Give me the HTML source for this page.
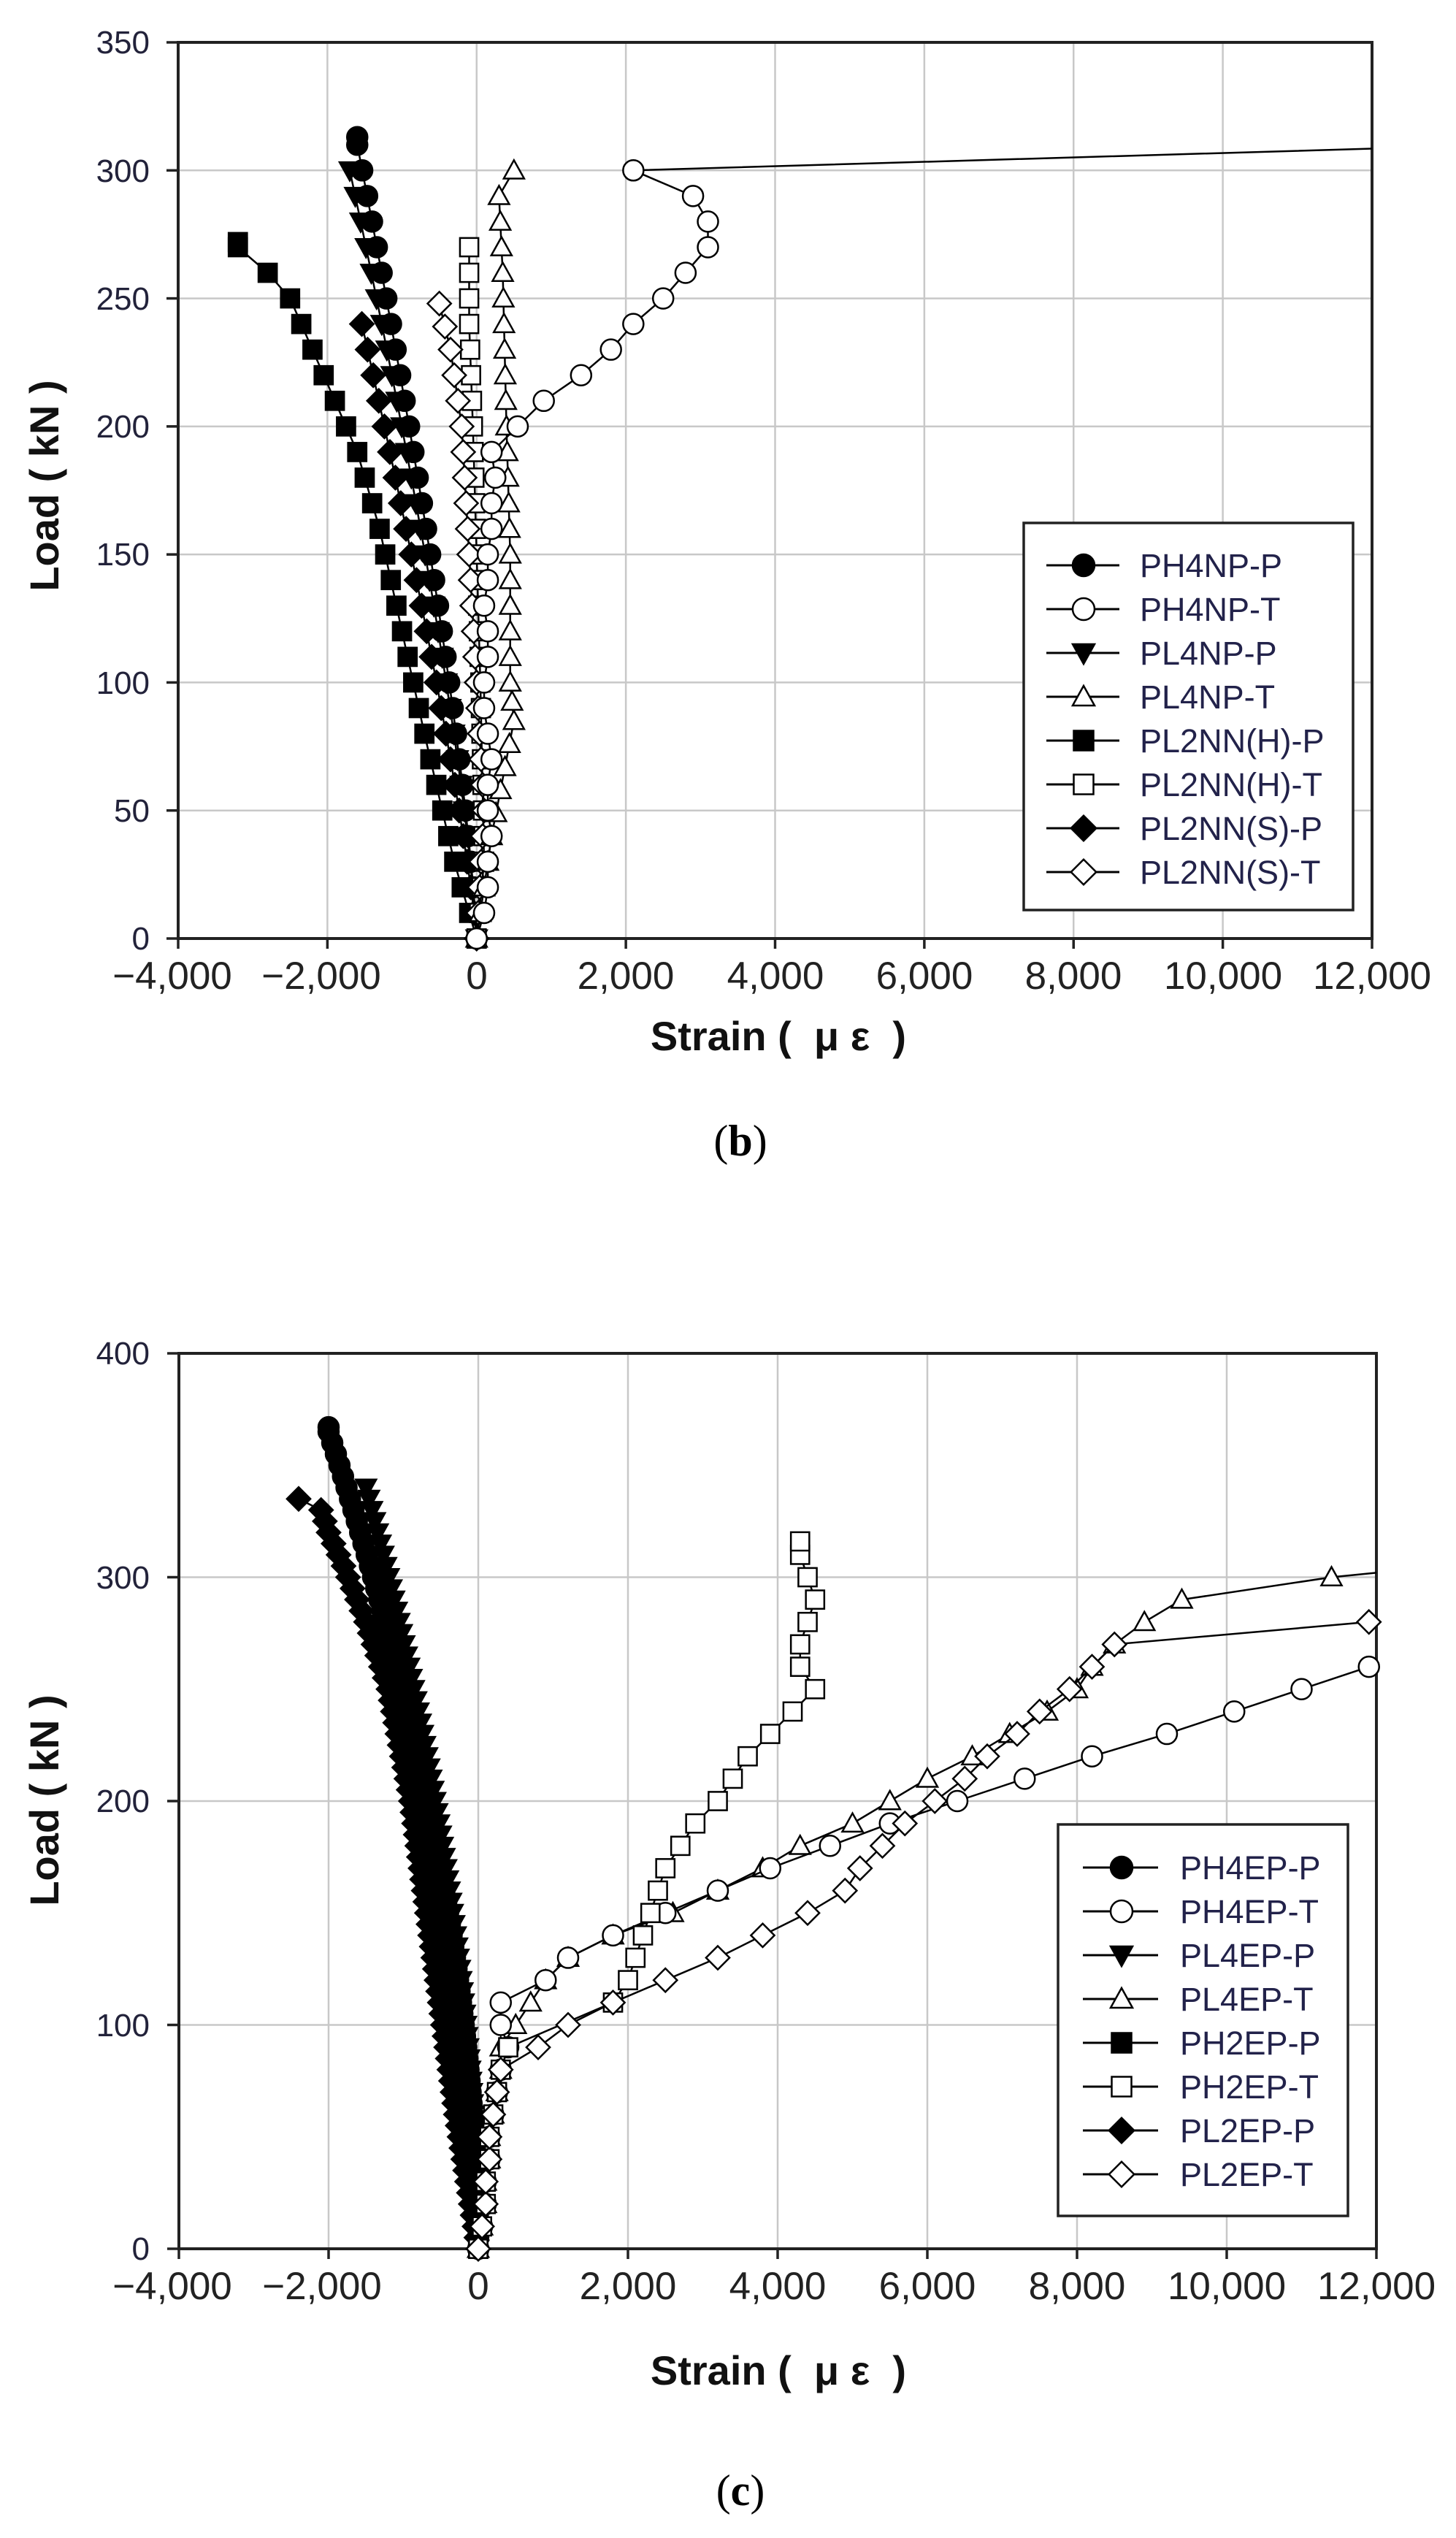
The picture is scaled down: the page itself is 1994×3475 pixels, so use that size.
<!DOCTYPE html>
<html><head><meta charset="utf-8"><style>
html,body{margin:0;padding:0;background:#fff;}
svg{display:block;}
.tk{font-family:"Liberation Sans",sans-serif;font-size:44px;fill:#22223a;}
.xt{font-family:"Liberation Sans",sans-serif;font-size:53px;fill:#222;}
.ti{font-family:"Liberation Sans",sans-serif;font-size:56px;font-weight:bold;fill:#111;}
.lg{font-family:"Liberation Sans",sans-serif;font-size:45px;fill:#22224a;}
.cap{font-family:"Liberation Serif",serif;font-size:60px;fill:#000;}
</style></head><body>
<svg id="s" width="1994" height="3475" viewBox="0 0 1994 3475" xmlns="http://www.w3.org/2000/svg">
<rect width="1994" height="3475" fill="#fff"/>
<g id="grid"></g>
<g id="data"></g>
<g class="tk" text-anchor="end">
<text x="205" y="1300">0</text><text x="205" y="1125">50</text><text x="205" y="950">100</text>
<text x="205" y="774">150</text><text x="205" y="599">200</text><text x="205" y="424">250</text>
<text x="205" y="249">300</text><text x="205" y="73">350</text>
</g>
<g class="xt" text-anchor="middle">
<text x="236" y="1354">−4,000</text><text x="440" y="1354">−2,000</text><text x="653" y="1354">0</text>
<text x="857" y="1354">2,000</text><text x="1062" y="1354">4,000</text><text x="1266" y="1354">6,000</text>
<text x="1470" y="1354">8,000</text><text x="1675" y="1354">10,000</text><text x="1879" y="1354">12,000</text>
</g>
<text class="ti" x="1066" y="1438" text-anchor="middle" xml:space="preserve">Strain (  μ ε  )</text>
<text class="ti" transform="translate(80,665) rotate(-90)" text-anchor="middle">Load ( kN )</text>
<text class="cap" x="1014" y="1582" text-anchor="middle">(<tspan font-weight="bold">b</tspan>)</text>
<g class="tk" text-anchor="end">
<text x="205" y="3094">0</text><text x="205" y="2788">100</text><text x="205" y="2481">200</text>
<text x="205" y="2175">300</text><text x="205" y="1868">400</text>
</g>
<g class="xt" text-anchor="middle">
<text x="236" y="3148">−4,000</text><text x="441" y="3148">−2,000</text><text x="655" y="3148">0</text>
<text x="860" y="3148">2,000</text><text x="1065" y="3148">4,000</text><text x="1270" y="3148">6,000</text>
<text x="1475" y="3148">8,000</text><text x="1680" y="3148">10,000</text><text x="1885" y="3148">12,000</text>
</g>
<text class="ti" x="1066" y="3265" text-anchor="middle" xml:space="preserve">Strain (  μ ε  )</text>
<text class="ti" transform="translate(80,2465) rotate(-90)" text-anchor="middle">Load ( kN )</text>
<text class="cap" x="1014" y="3430" text-anchor="middle">(<tspan font-weight="bold">c</tspan>)</text>
<rect x="1402" y="716" width="451" height="530" fill="#fff" stroke="#222" stroke-width="3.5"/>
<g class="lg">
<text x="1561" y="790">PH4NP-P</text><text x="1561" y="850">PH4NP-T</text><text x="1561" y="910">PL4NP-P</text>
<text x="1561" y="970">PL4NP-T</text><text x="1561" y="1030">PL2NN(H)-P</text><text x="1561" y="1090">PL2NN(H)-T</text>
<text x="1561" y="1150">PL2NN(S)-P</text><text x="1561" y="1210">PL2NN(S)-T</text>
</g>
<rect x="1449" y="2498" width="397" height="536" fill="#fff" stroke="#222" stroke-width="3.5"/>
<g class="lg">
<text x="1616" y="2573">PH4EP-P</text><text x="1616" y="2633">PH4EP-T</text><text x="1616" y="2693">PL4EP-P</text>
<text x="1616" y="2753">PL4EP-T</text><text x="1616" y="2813">PH2EP-P</text><text x="1616" y="2873">PH2EP-T</text>
<text x="1616" y="2933">PL2EP-P</text><text x="1616" y="2993">PL2EP-T</text>
</g>
<g id="leg"></g>
</svg>
<script>
var NS="http://www.w3.org/2000/svg";
function el(p,t,a){var e=document.createElementNS(NS,t);for(var k in a)e.setAttribute(k,a[k]);p.appendChild(e);return e;}
var grid=document.getElementById('grid'),data=document.getElementById('data'),leg=document.getElementById('leg');
function chart(L,R,T,B,xmin,xmax,ymax,ystep){
  var X=function(s){return L+(s-xmin)*(R-L)/(xmax-xmin);};
  var Y=function(v){return B-v*(B-T)/ymax;};
  for(var s=xmin;s<=xmax;s+=2000){el(grid,'line',{x1:X(s),x2:X(s),y1:T,y2:B,stroke:'#c8c8c8','stroke-width':2.5});
    el(grid,'line',{x1:X(s),x2:X(s),y1:B,y2:B+14,stroke:'#222','stroke-width':3.5});}
  for(var v=0;v<=ymax;v+=ystep){el(grid,'line',{x1:L,x2:R,y1:Y(v),y2:Y(v),stroke:'#c8c8c8','stroke-width':2.5});
    el(grid,'line',{x1:L-16,x2:L,y1:Y(v),y2:Y(v),stroke:'#222','stroke-width':3.5});}
  el(grid,'rect',{x:L,y:T,width:R-L,height:B-T,fill:'none',stroke:'#222','stroke-width':4});
  return [X,Y];
}
function marker(p,type,x,y,r){
  var f=(type.indexOf('o')>=0)?'#fff':'#000';var sw=2.5;var t=type[0];
  if(t=='c')el(p,'circle',{cx:x,cy:y,r:r,fill:f,stroke:'#000','stroke-width':sw});
  else if(t=='s')el(p,'rect',{x:x-r*0.9,y:y-r*0.9,width:r*1.8,height:r*1.8,fill:f,stroke:'#000','stroke-width':sw});
  else if(t=='d')el(p,'polygon',{points:[x,y-r*1.15,x+r*1.15,y,x,y+r*1.15,x-r*1.15,y].join(','),fill:f,stroke:'#000','stroke-width':sw});
  else if(t=='v')el(p,'polygon',{points:[x-r,y-r*0.8,x+r,y-r*0.8,x,y+r].join(','),fill:f,stroke:'#000','stroke-width':sw});
  else if(t=='u')el(p,'polygon',{points:[x-r,y+r*0.8,x+r,y+r*0.8,x,y-r].join(','),fill:f,stroke:'#000','stroke-width':sw});
}
function series(XY,pts,type,r,clipR){
  var X=XY[0],Y=XY[1];var d='';
  pts.forEach(function(p,i){var x=Math.min(X(p[0]),clipR);d+=(i?'L':'M')+x.toFixed(1)+' '+Y(p[1]).toFixed(1);});
  el(data,'path',{d:d,fill:'none',stroke:'#000','stroke-width':2.5});
  pts.forEach(function(p){if(X(p[0])<=clipR+1)marker(data,type,X(p[0]),Y(p[1]),r);});
}
function pw(a,top,p,step,extra){var o=[];for(var v=0;v<=top;v+=step)o.push([a*Math.pow(v/top,p),v]);if(extra)o.push(extra);return o;}
function interp(list,step){var o=[];for(var i=0;i<list.length-1;i++){var a=list[i],b=list[i+1];var n=Math.max(1,Math.round((b[1]-a[1])/step));for(var k=0;k<n;k++)o.push([a[0]+(b[0]-a[0])*k/n,a[1]+(b[1]-a[1])*k/n]);}o.push(list[list.length-1]);return o;}
var R=14;
var b=chart(244,1879,58,1285,-4000,12000,350,50);
series(b,interp([[0,0],[-300,30],[-700,80],[-1000,120],[-1300,160],[-1600,190],[-1900,210],[-2200,230],[-2500,250],[-2800,260],[-3200,270],[-3200,272]],10),'s',R,1879);
series(b,pw(-1600,248,1.2,10),'d',R,1879);
series(b,pw(-1700,300,1.3,10),'v',R,1879);
series(b,pw(-1600,310,1.3,10,[-1600,313]),'c',R,1879);
series(b,interp([[0,0],[100,30],[50,100],[0,150],[-50,200],[-100,240],[-100,270]],10),'so',R,1879);
series(b,interp([[0,0],[100,50],[0,100],[-100,150],[-200,200],[-350,230],[-500,248]],10),'do',R,1879);
series(b,interp([[0,0],[200,40],[500,85],[450,100],[450,150],[400,200],[350,260],[300,290],[500,300]],10),'uo',R,1879);
series(b,[[0,0],[100,10],[150,20],[150,30],[200,40],[150,50],[150,60],[200,70],[150,80],[100,90],[100,100],[150,110],[150,120],[100,130],[150,140],[150,150],[200,160],[200,170],[250,180],[200,190],[550,200],[900,210],[1400,220],[1800,230],[2100,240],[2500,250],[2800,260],[3100,270],[3100,280],[2900,290],[2100,300],[12500,308.5]],'co',R,1879);
var c=chart(245,1885,1853,3079,-4000,12000,400,100);
series(c,pw(-1000,250,1.5,5),'s',R,1885);
series(c,interp([[0,0],[-300,60],[-600,130],[-900,200],[-1200,250],[-1500,280],[-1800,305],[-2000,320],[-2100,330],[-2400,335]],5),'d',R,1885);
series(c,pw(-1500,340,1.8,5),'v',R,1885);
series(c,pw(-2000,365,1.8,5,[-2000,367]),'c',R,1885);
var low=[[0,0],[50,10],[100,20],[100,30],[150,40],[150,50],[200,60],[250,70],[300,80]];
series(c,low.concat([[300,90],[500,100],[700,110],[900,120],[1200,130],[1800,140],[2600,150],[3200,160],[3800,170],[4300,180],[5000,190],[5500,200],[6000,210],[6600,220],[7100,230],[7600,240],[8000,250],[8200,260],[8500,270],[8900,280],[9400,290],[11400,300],[12200,302]]),'uo',R,1885);
series(c,low.concat([[400,90],[300,100],[300,110],[900,120],[1200,130],[1800,140],[2500,150],[3200,160],[3900,170],[4700,180],[5500,190],[6400,200],[7300,210],[8200,220],[9200,230],[10100,240],[11000,250],[11900,260],[12200,262]]),'co',R,1885);
series(c,low.concat([[400,90],[1800,110],[2000,120],[2100,130],[2200,140],[2300,150],[2400,160],[2500,170],[2700,180],[2900,190],[3200,200],[3400,210],[3600,220],[3900,230],[4200,240],[4500,250],[4300,260],[4300,270],[4400,280],[4500,290],[4400,300],[4300,310],[4300,316]]),'so',R,1885);
series(c,low.concat([[800,90],[1200,100],[1800,110],[2500,120],[3200,130],[3800,140],[4400,150],[4900,160],[5100,170],[5400,180],[5700,190],[6100,200],[6500,210],[6800,220],[7200,230],[7500,240],[7900,250],[8200,260],[8500,270],[11900,280],[12200,280]]),'do',R,1885);
var tb=['c','co','v','uo','s','so','d','do'];
tb.forEach(function(t,i){var y=774+60*i;el(leg,'line',{x1:1433,x2:1533,y1:y,y2:y,stroke:'#000','stroke-width':3});marker(leg,t,1484,y,15);
 var y2=2557+60*i;el(leg,'line',{x1:1483,x2:1586,y1:y2,y2:y2,stroke:'#000','stroke-width':3});marker(leg,t,1536,y2,15);});
</script>
</body></html>
